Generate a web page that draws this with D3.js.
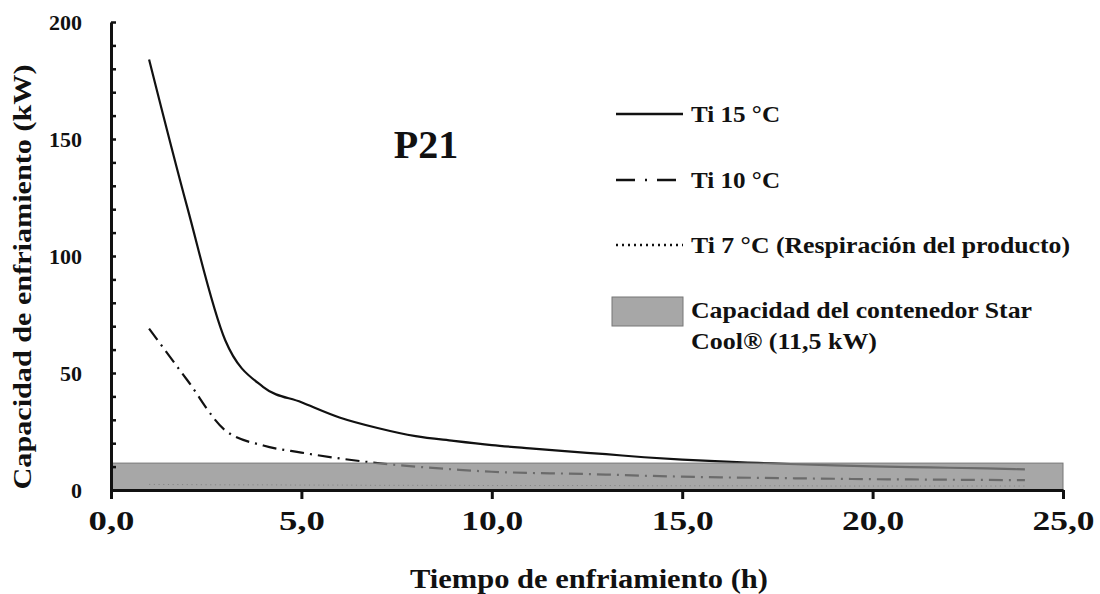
<!DOCTYPE html>
<html>
<head>
<meta charset="utf-8">
<script src="https://cdn.jsdelivr.net/npm/d3@7"></script>
<style>
  body { margin: 0; background: #fff; }
  svg text { font-family: "Liberation Serif", "DejaVu Serif", serif; font-weight: bold; fill: #111; }
</style>
</head>
<body>
<div id="chart"></div>
<script>
// Data (hours, kW)
var hours = [1, 2, 3, 4, 5, 6, 7, 8, 9, 10, 11, 12, 13, 14, 15, 16, 17, 18, 19, 20, 21, 22, 23, 24];
var ti15 = [184, 121, 64, 44, 37.5, 31, 26.5, 23, 21, 19.2, 17.8, 16.5, 15.3, 14, 13, 12.2, 11.6, 11, 10.5, 10.1, 9.8, 9.5, 9.2, 8.8];
var ti10 = [69, 47, 25.5, 19, 16, 13.5, 11.5, 10, 8.8, 7.8, 7.3, 7, 6.6, 6.1, 5.7, 5.4, 5.2, 5, 4.8, 4.6, 4.5, 4.4, 4.3, 4.2];
var ti7 = [2.4, 2.3, 2.2, 2.2, 2.1, 2.1, 2.0, 2.0, 2.0, 1.9, 1.9, 1.9, 1.9, 1.8, 1.8, 1.8, 1.8, 1.8, 1.7, 1.7, 1.7, 1.7, 1.7, 1.7];
var containerCapacity = 11.5;

var xTicks = [0, 5, 10, 15, 20, 25];
var yTicks = [0, 50, 100, 150, 200];

var seriesNames = ["Ti 15 \u00B0C", "Ti 10 \u00B0C", "Ti 7 \u00B0C (Respiraci\u00F3n del producto)"];
var bandLabel = ["Capacidad del contenedor Star", "Cool\u00AE (11,5 kW)"];

var width = 1100, height = 594;

var svg = d3.select("#chart")
    .append("svg")
    .attr("width", width)
    .attr("height", height);

// scales
var x = d3.scaleLinear().domain([0, 25]).range([111, 1063]);
var y = d3.scaleLinear().domain([0, 200]).range([490, 22]);

var line = d3.line()
    .x(function(d) { return x(d[0]); })
    .y(function(d) { return y(d[1]); })
    .curve(d3.curveMonotoneX);

function pairs(vals) {
    return hours.map(function(h, i) { return [h, vals[i]]; });
}

// Lines (drawn under the translucent band)
var styles = [
    { vals: ti15, dash: null, width: 2.2, color: "#111" },
    { vals: ti10, dash: "14,6,2,6", width: 2.2, color: "#111" },
    { vals: ti7, dash: "1.2,3.5", width: 1, color: "#777" }
];

svg.append("g")
    .selectAll("path")
    .data(styles)
    .enter()
    .append("path")
    .attr("d", function(d) { return line(pairs(d.vals)); })
    .attr("fill", "none")
    .attr("stroke", function(d) { return d.color; })
    .attr("stroke-width", function(d) { return d.width; })
    .attr("stroke-dasharray", function(d) { return d.dash; });

// Container capacity band
svg.append("rect")
    .attr("x", x(0))
    .attr("y", y(containerCapacity))
    .attr("width", x(25) - x(0))
    .attr("height", y(0) - y(containerCapacity))
    .attr("fill", "#8a8a8a")
    .attr("fill-opacity", 0.75)
    .attr("stroke", "#777")
    .attr("stroke-width", 1);

// X axis
var xAxis = svg.append("g")
    .attr("transform", "translate(0," + y(0) + ")")
    .call(d3.axisBottom(x)
        .tickValues(xTicks)
        .tickSizeInner(9)
        .tickSizeOuter(0)
        .tickPadding(12)
        .tickFormat(function(d) { return d.toFixed(1).replace(".", ","); }));
xAxis.select(".domain").attr("stroke", "#111").attr("stroke-width", 3);
xAxis.selectAll(".tick line").attr("stroke", "#111").attr("stroke-width", 3);
xAxis.selectAll(".tick text")
    .style("font-size", "27px")
    .attr("textLength", function(d) { return d < 10 ? 46 : 62; })
    .attr("lengthAdjust", "spacingAndGlyphs");

// Y axis: minor ticks every 10, pointing inward
var yMinor = svg.append("g")
    .attr("transform", "translate(" + x(0) + ",0)")
    .call(d3.axisLeft(y)
        .tickValues(d3.range(10, 201, 10))
        .tickSizeInner(-5)
        .tickSizeOuter(0)
        .tickFormat(""));
yMinor.select(".domain").attr("stroke", "#111").attr("stroke-width", 3);
yMinor.selectAll(".tick line").attr("stroke", "#111").attr("stroke-width", 2.5);

var yAxis = svg.append("g")
    .attr("transform", "translate(" + x(0) + ",0)")
    .call(d3.axisLeft(y)
        .tickValues(yTicks)
        .tickSize(0)
        .tickPadding(29));
yAxis.select(".domain").remove();
yAxis.selectAll(".tick text").style("font-size", "22px");

// Axis titles
svg.append("text")
    .attr("x", 589)
    .attr("y", 588)
    .attr("text-anchor", "middle")
    .style("font-size", "27px")
    .attr("textLength", 358)
    .attr("lengthAdjust", "spacingAndGlyphs")
    .text("Tiempo de enfriamiento (h)");

svg.append("text")
    .attr("transform", "translate(31,277) rotate(-90)")
    .attr("text-anchor", "middle")
    .style("font-size", "25px")
    .attr("textLength", 425)
    .attr("lengthAdjust", "spacingAndGlyphs")
    .text("Capacidad de enfriamiento (kW)");

// Panel label
svg.append("text")
    .attr("x", 426)
    .attr("y", 158)
    .attr("text-anchor", "middle")
    .style("font-size", "40px")
    .text("P21");

// Legend
var legendY = [114, 180, 245];
var legendLen = [89, 89, 379];
var legend = svg.append("g");

legend.selectAll("line")
    .data(styles)
    .enter()
    .append("line")
    .attr("x1", 616)
    .attr("x2", 683)
    .attr("y1", function(d, i) { return legendY[i]; })
    .attr("y2", function(d, i) { return legendY[i]; })
    .attr("stroke", "#111")
    .attr("stroke-width", 2.5)
    .attr("stroke-dasharray", function(d, i) { return i === 1 ? "19,10,2,10" : (i === 2 ? "2,4" : null); });

legend.selectAll("text.series")
    .data(seriesNames)
    .enter()
    .append("text")
    .attr("class", "series")
    .attr("x", 691)
    .attr("y", function(d, i) { return legendY[i]; })
    .attr("dy", "0.35em")
    .style("font-size", "24px")
    .attr("textLength", function(d, i) { return legendLen[i]; })
    .attr("lengthAdjust", "spacingAndGlyphs")
    .text(function(d) { return d; });

legend.append("rect")
    .attr("x", 612)
    .attr("y", 297)
    .attr("width", 71)
    .attr("height", 29)
    .attr("fill", "#8a8a8a")
    .attr("fill-opacity", 0.75)
    .attr("stroke", "#777")
    .attr("stroke-width", 1);

legend.selectAll("text.band")
    .data(bandLabel)
    .enter()
    .append("text")
    .attr("class", "band")
    .attr("x", 691)
    .attr("y", function(d, i) { return 310 + i * 31; })
    .attr("dy", "0.35em")
    .style("font-size", "24px")
    .attr("textLength", function(d, i) { return i === 0 ? 341 : 186; })
    .attr("lengthAdjust", "spacingAndGlyphs")
    .text(function(d) { return d; });
</script>
</body>
</html>
